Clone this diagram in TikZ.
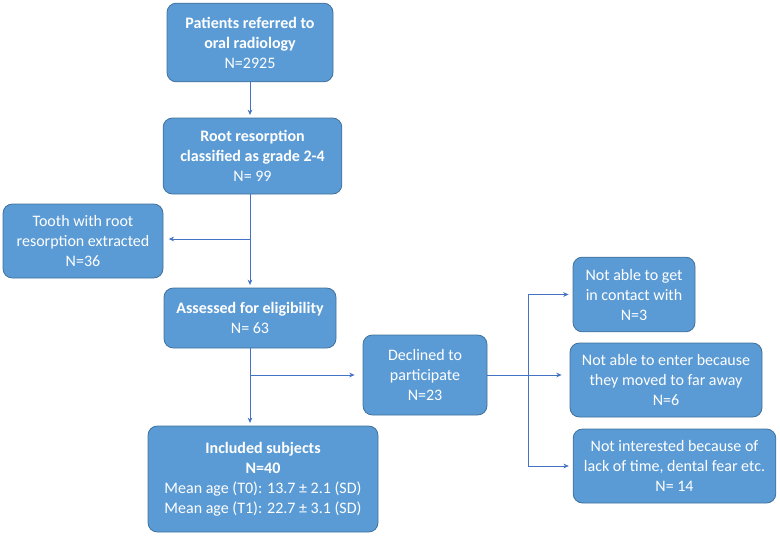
\documentclass[tikz,border=0pt]{standalone}
\usepackage{fontspec}
\setmainfont{Carlito}
\usetikzlibrary{arrows.meta}

\definecolor{boxfill}{HTML}{5B9BD5}
\definecolor{boxline}{HTML}{41719C}
\definecolor{arrowline}{HTML}{4472C4}

\tikzset{
	box/.style={draw=boxline, fill=boxfill, rounded corners=7pt, text=white, align=center,
		inner sep=2pt, font=\fontsize{12}{15}\selectfont, line width=0.6pt},
	arr/.style={draw=arrowline, line width=0.6pt, -{Stealth[length=4pt,width=3.5pt]}, shorten >=2pt},
	conn/.style={draw=arrowline, line width=0.6pt}
}

\begin{document}
\begin{tikzpicture}[x=0.75pt,y=-0.75pt]
	\useasboundingbox (0,0) rectangle (780,535);
	
	%main column
	\node[box, minimum width=124.5pt, minimum height=59pt] (referred) at (250,42.5)
		{\textbf{Patients referred to}\\\textbf{oral radiology}\\N=2925};
	\node[box, minimum width=134pt, minimum height=57pt] (root) at (252.5,156)
		{\textbf{Root resorption}\\\textbf{classified as grade 2-4}\\N= 99};
	\node[box, minimum width=129pt, minimum height=45pt] (assess) at (250,318)
		{\textbf{Assessed\ for eligibility}\\N= 63};
	\node[box, minimum width=172.5pt, minimum height=79.5pt] (included) at (263,479)
		{\textbf{Included subjects}\\\textbf{N=40}\\Mean age (T0): 13.7 ± 2.1 (SD)\\Mean age (T1): 22.7 ± 3.1 (SD)};
	
	%side boxes
	\node[box, minimum width=120pt, minimum height=55.5pt] (tooth) at (83,241)
		{Tooth with root\\resorption extracted\\N=36};
	\node[box, minimum width=93pt, minimum height=60pt] (declined) at (425,375)
		{Declined to\\participate\\N=23};
	\node[box, minimum width=91.5pt, minimum height=56pt] (contact) at (634,294.5)
		{Not able to get\\in contact with\\N=3};
	\node[box, minimum width=144pt, minimum height=55.5pt] (moved) at (666,380)
		{Not able to enter because\\they moved to far away\\N=6};
	\node[box, minimum width=152pt, minimum height=55.5pt] (notint) at (674.5,466)
		{Not interested because of\\lack of time, dental fear etc.\\N= 14};
	
	%branch points
	\coordinate (split1) at (250,239);
	\coordinate (split2) at (250,375);
	\coordinate (split3) at (528,375);
	
	%arrows
	\draw[arr] (referred) -- (referred.south |- root.north);
	\draw[arr] (assess.north |- root.south) -- (assess.north);
	\draw[arr, shorten >=4pt] (split1) -- (split1 -| tooth.east);
	\draw[arr] (assess) -- (included.north -| assess.south);
	\draw[arr, shorten >=6pt] (split2) -- (declined.west);
	\draw[conn] (declined.east) -- (split3);
	\draw[arr, shorten >=3pt] (split3) |- (contact.west);
	\draw[arr, shorten >=6pt] (split3) -- (moved.west |- split3);
	\draw[arr, shorten >=3pt] (split3) |- (notint.west);
\end{tikzpicture}
\end{document}
